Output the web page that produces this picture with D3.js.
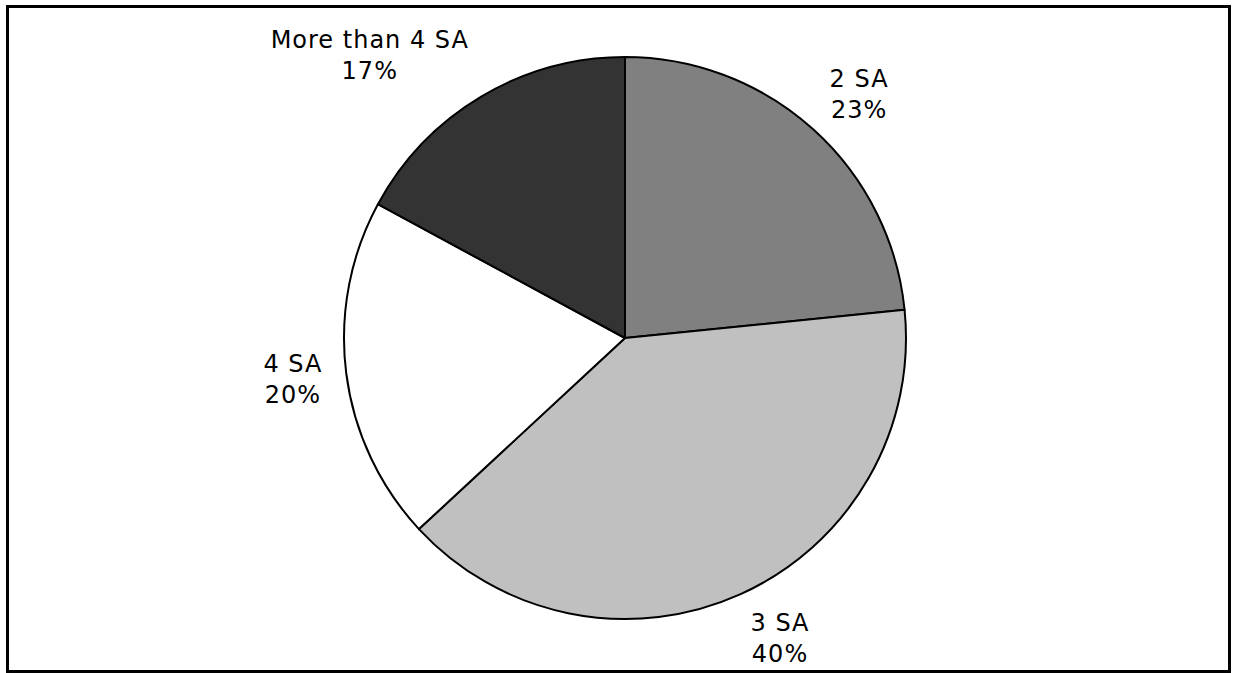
<!DOCTYPE html>
<html>
<head>
<meta charset="utf-8">
<script src="https://cdn.jsdelivr.net/npm/d3@7"></script>
<style>
  body { margin: 0; background: #fff; }
  svg { display: block; }
  .lbl { font-family: "DejaVu Sans", Verdana, sans-serif; font-size: 24px; letter-spacing: 1px; fill: #000; }
</style>
</head>
<body>
<svg id="chart" width="1233" height="673"></svg>
<script>
// slice data, clockwise from 12 o'clock
const categories = ['2 SA', '3 SA', '4 SA', 'More than 4 SA'];
const shares = [23.4, 39.7, 19.8, 17.1];
const fills = ['#808080', '#c0c0c0', '#ffffff', '#333333'];

const width = 1233;
const height = 673;
const cx = 625;
const cy = 338;
const radius = 281;
const labelPad = 24;
const lineGap = 31;

const svg = d3.select('#chart');

// outer frame
svg.append('rect')
    .attr('x', 7.5)
    .attr('y', 6.5)
    .attr('width', width - 11)
    .attr('height', height - 8)
    .attr('fill', 'none')
    .attr('stroke', '#000')
    .attr('stroke-width', 3);

const data = categories.map((c, i) => ({ name: c, value: shares[i], fill: fills[i] }));

const pie = d3.pie()
    .sort(null)
    .value((d) => d.value);

const arc = d3.arc()
    .innerRadius(0)
    .outerRadius(radius);

const g = svg.append('g')
    .attr('transform', `translate(${cx},${cy})`);

const arcs = pie(data);

g.selectAll('path.slice')
    .data(arcs)
    .enter()
    .append('path')
    .attr('class', 'slice')
    .attr('d', arc)
    .attr('fill', (d) => d.data.fill)
    .attr('stroke', '#000')
    .attr('stroke-width', 2)
    .attr('stroke-linejoin', 'round');

// labels: outside end, text box pushed out along the mid angle
const total = d3.sum(shares);
const labels = g.selectAll('text.lbl')
    .data(arcs)
    .enter()
    .append('text')
    .attr('class', 'lbl')
    .attr('text-anchor', 'middle');

labels.append('tspan')
    .attr('x', 0)
    .attr('dy', 0)
    .text((d) => d.data.name);

labels.append('tspan')
    .attr('x', 0)
    .attr('dy', lineGap)
    .text((d) => `${Math.round((d.data.value / total) * 100)}%`);

labels.each(function (d) {
    const t = d3.select(this);
    const box = this.getBBox();
    const mid = (d.startAngle + d.endAngle) / 2;
    const dx = Math.sin(mid);
    const dy = -Math.cos(mid);
    const capH = 17;
    const h = lineGap + capH;
    // box sits fully to one side horizontally, slides vertically with the angle
    const px = dx * (radius + labelPad) + (Math.sign(dx) * box.width) / 2;
    const py = dy * (radius + labelPad) + (dy * h) / 2;
    const top = py - h / 2;
    t.attr('transform', `translate(${px},${top + capH})`);
});
</script>
</body>
</html>
